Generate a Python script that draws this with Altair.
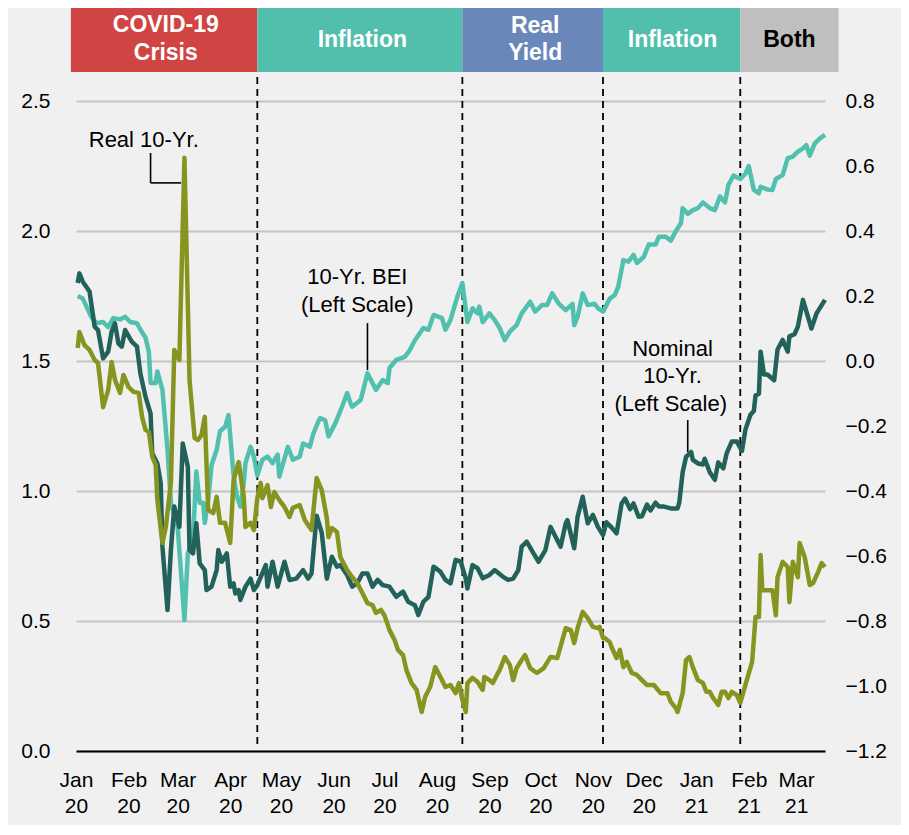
import altair as alt
import pandas as pd

# ---------------- data ----------------
bei_dates = [
    "2020-01-02", "2020-01-05", "2020-01-10", "2020-01-13", "2020-01-17", "2020-01-20", "2020-01-23",
    "2020-01-27", "2020-01-30", "2020-02-02", "2020-02-06", "2020-02-09", "2020-02-11", "2020-02-13",
    "2020-02-14", "2020-02-17", "2020-02-18", "2020-02-21", "2020-02-24", "2020-02-26", "2020-03-01",
    "2020-03-05", "2020-03-07", "2020-03-10", "2020-03-12", "2020-03-14", "2020-03-16", "2020-03-17",
    "2020-03-19", "2020-03-21", "2020-03-24", "2020-03-26", "2020-03-29", "2020-03-31", "2020-04-03",
    "2020-04-05", "2020-04-07", "2020-04-09", "2020-04-10", "2020-04-13", "2020-04-15", "2020-04-17",
    "2020-04-20", "2020-04-23", "2020-04-26", "2020-04-29", "2020-04-30", "2020-05-05", "2020-05-08",
    "2020-05-12", "2020-05-14", "2020-05-18", "2020-05-20", "2020-05-23", "2020-05-24", "2020-05-27",
    "2020-05-29", "2020-06-02", "2020-06-06", "2020-06-09", "2020-06-11", "2020-06-12", "2020-06-17",
    "2020-06-21", "2020-06-26", "2020-06-30", "2020-07-03", "2020-07-04", "2020-07-08", "2020-07-13",
    "2020-07-16", "2020-07-19", "2020-07-24", "2020-07-27", "2020-07-30", "2020-08-04", "2020-08-06",
    "2020-08-09", "2020-08-13", "2020-08-16", "2020-08-19", "2020-08-22", "2020-08-25", "2020-08-26",
    "2020-08-28", "2020-09-01", "2020-09-04", "2020-09-07", "2020-09-10", "2020-09-13", "2020-09-17",
    "2020-09-20", "2020-09-25", "2020-09-28", "2020-10-02", "2020-10-05", "2020-10-08", "2020-10-12",
    "2020-10-16", "2020-10-20", "2020-10-21", "2020-10-23", "2020-10-26", "2020-10-29", "2020-11-02",
    "2020-11-04", "2020-11-07", "2020-11-11", "2020-11-14", "2020-11-16", "2020-11-19", "2020-11-22",
    "2020-11-25", "2020-11-27", "2020-12-01", "2020-12-04", "2020-12-08", "2020-12-10", "2020-12-14",
    "2020-12-17", "2020-12-20", "2020-12-23", "2020-12-24", "2020-12-27", "2020-12-30", "2021-01-02",
    "2021-01-05", "2021-01-09", "2021-01-12", "2021-01-15", "2021-01-18", "2021-01-20", "2021-01-23",
    "2021-01-27", "2021-01-30", "2021-02-01", "2021-02-04", "2021-02-07", "2021-02-08", "2021-02-12",
    "2021-02-15", "2021-02-17", "2021-02-21", "2021-02-24", "2021-02-27", "2021-03-02", "2021-03-05",
    "2021-03-07", "2021-03-09", "2021-03-12", "2021-03-15", "2021-03-18",
]
bei_values = [
    1.75, 1.74, 1.67, 1.645, 1.65, 1.63, 1.665,
    1.66, 1.67, 1.65, 1.645, 1.61, 1.59, 1.535,
    1.415, 1.415, 1.46, 1.39, 1.16, 0.955, 0.86,
    0.504, 0.76, 0.81, 1.075, 0.955, 0.955, 0.877,
    0.965, 1.10, 1.158, 1.23, 1.247, 1.292, 1.06,
    0.978, 0.94, 1.03, 1.107, 1.17, 1.132, 1.06,
    1.12, 1.132, 1.107, 1.14, 1.055, 1.17, 1.12,
    1.132, 1.183, 1.17, 1.22, 1.267, 1.28, 1.273,
    1.21, 1.26, 1.324, 1.377, 1.338, 1.324, 1.35,
    1.453, 1.389, 1.427, 1.415, 1.473, 1.504, 1.516,
    1.542, 1.58, 1.627, 1.62, 1.677, 1.665, 1.62,
    1.658, 1.747, 1.80, 1.65, 1.703, 1.683, 1.709,
    1.65, 1.683, 1.658, 1.627, 1.58, 1.613, 1.638,
    1.683, 1.728, 1.69, 1.715, 1.715, 1.76, 1.72,
    1.696, 1.72, 1.638, 1.67, 1.76, 1.715, 1.72,
    1.703, 1.69, 1.74, 1.754, 1.786, 1.888, 1.882,
    1.908, 1.877, 1.90, 1.948, 1.948, 1.978, 1.978,
    1.963, 2.0, 2.03, 2.088, 2.066, 2.08, 2.088,
    2.11, 2.088, 2.08, 2.133, 2.11, 2.177, 2.213,
    2.20, 2.22, 2.25, 2.158, 2.145, 2.17, 2.16,
    2.158, 2.20, 2.215, 2.28, 2.286, 2.305, 2.318,
    2.33, 2.29, 2.337, 2.356, 2.37,
]

nom_dates = [
    "2020-01-02", "2020-01-03", "2020-01-05", "2020-01-09", "2020-01-12", "2020-01-14", "2020-01-17",
    "2020-01-20", "2020-01-22", "2020-01-24", "2020-01-26", "2020-01-28", "2020-01-30", "2020-02-03",
    "2020-02-06", "2020-02-08", "2020-02-11", "2020-02-14", "2020-02-15", "2020-02-18", "2020-02-20",
    "2020-02-21", "2020-02-24", "2020-02-26", "2020-02-28", "2020-03-02", "2020-03-04", "2020-03-07",
    "2020-03-08", "2020-03-10", "2020-03-12", "2020-03-14", "2020-03-17", "2020-03-18", "2020-03-21",
    "2020-03-24", "2020-03-25", "2020-03-27", "2020-03-30", "2020-04-01", "2020-04-03", "2020-04-04",
    "2020-04-06", "2020-04-07", "2020-04-10", "2020-04-13", "2020-04-15", "2020-04-17", "2020-04-22",
    "2020-04-23", "2020-04-26", "2020-04-29", "2020-05-03", "2020-05-06", "2020-05-10", "2020-05-14",
    "2020-05-17", "2020-05-19", "2020-05-22", "2020-05-25", "2020-05-28", "2020-05-31", "2020-06-03",
    "2020-06-05", "2020-06-09", "2020-06-12", "2020-06-15", "2020-06-18", "2020-06-21", "2020-06-24",
    "2020-06-27", "2020-06-30", "2020-07-04", "2020-07-08", "2020-07-12", "2020-07-15", "2020-07-19",
    "2020-07-21", "2020-07-24", "2020-07-27", "2020-07-30", "2020-08-03", "2020-08-06", "2020-08-09",
    "2020-08-12", "2020-08-15", "2020-08-18", "2020-08-19", "2020-08-22", "2020-08-25", "2020-08-28",
    "2020-09-01", "2020-09-04", "2020-09-09", "2020-09-12", "2020-09-15", "2020-09-18", "2020-09-20",
    "2020-09-23", "2020-09-27", "2020-09-30", "2020-10-04", "2020-10-07", "2020-10-10", "2020-10-13",
    "2020-10-16", "2020-10-17", "2020-10-21", "2020-10-23", "2020-10-26", "2020-10-29", "2020-11-01",
    "2020-11-04", "2020-11-07", "2020-11-09", "2020-11-12", "2020-11-15", "2020-11-18", "2020-11-20",
    "2020-11-23", "2020-11-25", "2020-11-28", "2020-11-30", "2020-12-03", "2020-12-05", "2020-12-08",
    "2020-12-10", "2020-12-13", "2020-12-17", "2020-12-21", "2020-12-22", "2020-12-24", "2020-12-26",
    "2020-12-29", "2020-12-30", "2021-01-02", "2021-01-05", "2021-01-06", "2021-01-09", "2021-01-12",
    "2021-01-14", "2021-01-17", "2021-01-19", "2021-01-22", "2021-01-25", "2021-01-28", "2021-01-30",
    "2021-02-02", "2021-02-04", "2021-02-05", "2021-02-07", "2021-02-08", "2021-02-10", "2021-02-12",
    "2021-02-16", "2021-02-18", "2021-02-21", "2021-02-24", "2021-02-25", "2021-02-28", "2021-03-02",
    "2021-03-05", "2021-03-07", "2021-03-10", "2021-03-13", "2021-03-18",
]
nom_values = [
    1.80, 1.837, 1.805, 1.767, 1.632, 1.619, 1.51,
    1.536, 1.613, 1.645, 1.568, 1.555, 1.619, 1.574,
    1.555, 1.452, 1.363, 1.298, 1.145, 1.106, 1.03,
    0.786, 0.542, 0.773, 0.94, 0.862, 1.183, 1.093,
    0.773, 0.76, 0.876, 0.722, 0.696, 0.619, 0.632,
    0.696, 0.773, 0.728, 0.76, 0.632, 0.645, 0.606,
    0.619, 0.581, 0.632, 0.663, 0.619, 0.638, 0.715,
    0.632, 0.728, 0.632, 0.728, 0.658, 0.663, 0.696,
    0.663, 0.683, 0.905, 0.84, 0.663, 0.747, 0.709,
    0.715, 0.677, 0.632, 0.645, 0.683, 0.683, 0.632,
    0.658, 0.638, 0.632, 0.593, 0.613, 0.574, 0.561,
    0.523, 0.574, 0.593, 0.709, 0.69, 0.658, 0.645,
    0.735, 0.728, 0.663, 0.625, 0.715, 0.703, 0.664,
    0.677, 0.696, 0.67, 0.658, 0.663, 0.696, 0.786,
    0.805, 0.76, 0.728, 0.773, 0.862, 0.824, 0.786,
    0.876, 0.888, 0.78, 0.901, 0.978, 0.876, 0.908,
    0.862, 0.831, 0.88, 0.86, 0.837, 0.952, 0.971,
    0.93, 0.952, 0.901, 0.903, 0.948, 0.925, 0.955,
    0.94, 0.94, 0.933, 0.933, 0.955, 1.072, 1.131,
    1.15, 1.12, 1.106, 1.102, 1.124, 1.072, 1.043,
    1.11, 1.087, 1.146, 1.19, 1.19, 1.154, 1.235,
    1.293, 1.308, 1.367, 1.374, 1.536, 1.448, 1.448,
    1.426, 1.544, 1.581, 1.536, 1.595, 1.603, 1.632,
    1.735, 1.691, 1.625, 1.683, 1.735,
]

real_dates = [
    "2020-01-02", "2020-01-03", "2020-01-06", "2020-01-09", "2020-01-12", "2020-01-14", "2020-01-17",
    "2020-01-20", "2020-01-22", "2020-01-24", "2020-01-27", "2020-01-29", "2020-02-01", "2020-02-04",
    "2020-02-07", "2020-02-09", "2020-02-11", "2020-02-13", "2020-02-15", "2020-02-17", "2020-02-18",
    "2020-02-21", "2020-02-23", "2020-02-26", "2020-02-28", "2020-03-02", "2020-03-05", "2020-03-08",
    "2020-03-11", "2020-03-13", "2020-03-15", "2020-03-17", "2020-03-19", "2020-03-22", "2020-03-24",
    "2020-03-26", "2020-03-29", "2020-04-01", "2020-04-03", "2020-04-06", "2020-04-09", "2020-04-10",
    "2020-04-13", "2020-04-15", "2020-04-17", "2020-04-19", "2020-04-20", "2020-04-23", "2020-04-25",
    "2020-04-27", "2020-04-30", "2020-05-03", "2020-05-06", "2020-05-08", "2020-05-12", "2020-05-15",
    "2020-05-19", "2020-05-22", "2020-05-25", "2020-05-28", "2020-05-29", "2020-05-31", "2020-06-03",
    "2020-06-05", "2020-06-09", "2020-06-12", "2020-06-15", "2020-06-18", "2020-06-21", "2020-06-24",
    "2020-06-26", "2020-06-29", "2020-07-01", "2020-07-04", "2020-07-07", "2020-07-09", "2020-07-12",
    "2020-07-14", "2020-07-17", "2020-07-20", "2020-07-23", "2020-07-25", "2020-07-28", "2020-07-31",
    "2020-08-04", "2020-08-06", "2020-08-09", "2020-08-12", "2020-08-14", "2020-08-16", "2020-08-18",
    "2020-08-19", "2020-08-22", "2020-08-25", "2020-08-28", "2020-08-29", "2020-09-01", "2020-09-03",
    "2020-09-06", "2020-09-07", "2020-09-10", "2020-09-13", "2020-09-15", "2020-09-17", "2020-09-20",
    "2020-09-22", "2020-09-25", "2020-09-29", "2020-10-03", "2020-10-07", "2020-10-11", "2020-10-16",
    "2020-10-19", "2020-10-21", "2020-10-23", "2020-10-26", "2020-10-29", "2020-11-01", "2020-11-04",
    "2020-11-05", "2020-11-07", "2020-11-08", "2020-11-11", "2020-11-12", "2020-11-15", "2020-11-17",
    "2020-11-19", "2020-11-21", "2020-11-24", "2020-11-27", "2020-11-30", "2020-12-03", "2020-12-07",
    "2020-12-11", "2020-12-15", "2020-12-17", "2020-12-20", "2020-12-21", "2020-12-24", "2020-12-26",
    "2020-12-28", "2020-12-30", "2021-01-02", "2021-01-05", "2021-01-07", "2021-01-09", "2021-01-11",
    "2021-01-14", "2021-01-16", "2021-01-18", "2021-01-20", "2021-01-22", "2021-01-25", "2021-01-27",
    "2021-01-30", "2021-02-03", "2021-02-05", "2021-02-07", "2021-02-08", "2021-02-09", "2021-02-15",
    "2021-02-17", "2021-02-18", "2021-02-21", "2021-02-24", "2021-02-25", "2021-02-27", "2021-03-02",
    "2021-03-03", "2021-03-06", "2021-03-09", "2021-03-11", "2021-03-14", "2021-03-16", "2021-03-18",
]
real_values = [
    0.040, 0.089, 0.049, 0.034, 0.003, -0.006, -0.142,
    -0.089, -0.003, -0.058, -0.098, -0.043, -0.080, -0.095,
    -0.098, -0.172, -0.212, -0.218, -0.295, -0.320, -0.428,
    -0.560, -0.511, -0.375, 0.034, 0.003, 0.625, -0.058,
    -0.237, -0.243, -0.228, -0.172, -0.458, -0.468, -0.418,
    -0.498, -0.498, -0.560, -0.366, -0.311, -0.418, -0.511,
    -0.498, -0.520, -0.422, -0.375, -0.422, -0.382, -0.449,
    -0.403, -0.428, -0.449, -0.480, -0.452, -0.443, -0.489,
    -0.520, -0.360, -0.397, -0.483, -0.542, -0.514, -0.526,
    -0.603, -0.643, -0.665, -0.683, -0.714, -0.745, -0.751,
    -0.775, -0.766, -0.782, -0.828, -0.858, -0.889, -0.905,
    -0.951, -0.991, -1.012, -1.080, -1.034, -1.003, -0.942,
    -0.982, -1.003, -0.997, -1.022, -0.991, -1.043, -1.080,
    -0.991, -0.975, -0.988, -1.012, -0.972, -0.982, -0.991,
    -0.960, -0.951, -0.911, -0.935, -0.982, -0.945, -0.920,
    -0.905, -0.945, -0.960, -0.945, -0.911, -0.914, -0.822,
    -0.828, -0.868, -0.822, -0.772, -0.791, -0.818, -0.822,
    -0.818, -0.852, -0.852, -0.865, -0.880, -0.914, -0.889,
    -0.942, -0.926, -0.960, -0.966, -0.982, -0.997, -0.997,
    -1.022, -1.022, -1.049, -1.068, -1.080, -1.022, -0.920,
    -0.911, -0.942, -0.982, -0.991, -1.018, -1.018, -1.037,
    -1.058, -1.018, -1.018, -1.037, -1.018, -1.028, -1.052,
    -0.997, -0.926, -0.788, -0.788, -0.597, -0.705, -0.705,
    -0.782, -0.665, -0.618, -0.634, -0.742, -0.618, -0.665,
    -0.560, -0.603, -0.689, -0.683, -0.649, -0.622, -0.634,
]

# regime bands and dashed boundaries
band_starts = ["2019-12-29", "2020-04-17", "2020-08-16", "2020-11-07", "2021-01-27"]
band_ends = ["2020-04-17", "2020-08-16", "2020-11-07", "2021-01-27", "2021-03-26"]
band_colors = ["#d04443", "#52bfad", "#6a87b9", "#52bfad", "#bfbfbf"]
band_label_dates = ["2020-02-23", "2020-02-23", "2020-06-18", "2020-09-28", "2020-09-28", "2020-12-18", "2021-02-25"]
band_label_lines = ["COVID-19", "Crisis", "Inflation", "Real", "Yield", "Inflation", "Both"]
band_label_y = [2.792, 2.685, 2.735, 2.787, 2.683, 2.735, 2.735]
band_label_colors = ["white", "white", "white", "white", "white", "white", "black"]
divider_dates = ["2020-04-17", "2020-08-16", "2020-11-07", "2021-01-27"]

# series annotations
note_dates = ["2020-02-10", "2020-06-15", "2020-06-15", "2020-12-18", "2020-12-18", "2020-12-17"]
note_lines = ["Real 10-Yr.", "10-Yr. BEI", "(Left Scale)", "Nominal", "10-Yr.", "(Left Scale)"]
note_y = [2.35, 1.823, 1.715, 1.546, 1.442, 1.335]
leader_x = ["2020-02-14", "2020-02-14", "2020-06-21", "2020-12-27"]
leader_x2 = ["2020-02-14", "2020-03-03", "2020-06-21", "2020-12-27"]
leader_y = [2.30, 2.185, 1.646, 1.273]
leader_y2 = [2.185, 2.185, 1.465, 1.15]

left_ticks = [0.0, 0.5, 1.0, 1.5, 2.0, 2.5]
right_ticks = [-1.2, -1.0, -0.8, -0.6, -0.4, -0.2, 0.0, 0.2, 0.4, 0.6, 0.8]

# ---------------- tables ----------------
bei_df = pd.DataFrame({"date": bei_dates, "value": bei_values})
nom_df = pd.DataFrame({"date": nom_dates, "value": nom_values})
real_df = pd.DataFrame({"date": real_dates, "value": real_values})
band_df = pd.DataFrame({"date": band_starts, "end": band_ends, "color": band_colors})
band_txt_df = pd.DataFrame({"date": band_label_dates, "label": band_label_lines,
                            "value": band_label_y, "color": band_label_colors})
div_df = pd.DataFrame({"date": divider_dates})
note_df = pd.DataFrame({"date": note_dates, "label": note_lines, "value": note_y})
lead_df = pd.DataFrame({"date": leader_x, "x2": leader_x2, "value": leader_y, "y2": leader_y2})

FONT = "Liberation Sans"

month_vals = [alt.DateTime(year=2020, month=m, date=1, utc=True) for m in range(1, 13)] + \
             [alt.DateTime(year=2021, month=m, date=1, utc=True) for m in range(1, 4)]

x_scale = alt.Scale(type="utc",
                    domain=[alt.DateTime(year=2020, month=1, date=1, utc=True),
                            alt.DateTime(year=2021, month=3, date=18, utc=True)])
y_left = alt.Scale(domain=[0, 2.5], nice=False, zero=False)
y_right = alt.Scale(domain=[-1.2, 0.8], nice=False, zero=False)

x_axis = alt.Axis(values=month_vals, title=None, grid=False, ticks=False,
                  domainColor="black", domainWidth=2,
                  labelExpr="[utcFormat(datum.value, '%b'), utcFormat(datum.value, '%y')]",
                  labelFontSize=21, labelLineHeight=26, labelPadding=18,
                  labelFlush=False, labelOverlap=False, labelBound=False,
                  labelColor="black", labelFont=FONT)
left_axis = alt.Axis(values=left_ticks, format=".1f", title=None, domain=False, ticks=False,
                     grid=True, gridColor="#c4c4c4", gridWidth=2,
                     labelFontSize=21, labelPadding=26, labelColor="black", labelFont=FONT)
right_axis = alt.Axis(values=right_ticks, format=".1f", title=None, domain=False, ticks=False,
                      grid=False, orient="right",
                      labelFontSize=21, labelPadding=20, labelColor="black", labelFont=FONT)

X = alt.X("date:T", scale=x_scale, axis=x_axis)
YL = alt.Y("value:Q", scale=y_left, axis=left_axis)

band = alt.Chart(band_df).mark_rect().encode(
    x=X, x2="end:T",
    y=alt.datum(2.858, scale=y_left, axis=left_axis), y2=alt.datum(2.612),
    color=alt.Color("color:N", scale=None),
)
band_txt = alt.Chart(band_txt_df).mark_text(font=FONT, fontSize=23, fontWeight="bold",
                                            align="center", baseline="middle").encode(
    x=X, y=YL, text="label:N",
    color=alt.Color("color:N", scale=None),
)
dividers = alt.Chart(div_df).mark_rule(color="black", strokeWidth=1.8, strokeDash=[7, 5]).encode(
    x=X, y=alt.datum(2.592, scale=y_left, axis=left_axis), y2=alt.datum(0.023),
)
bei_line = alt.Chart(bei_df).mark_line(color="#52c0ae", strokeWidth=4.5, strokeJoin="round").encode(
    x=X, y=YL,
)
nom_line = alt.Chart(nom_df).mark_line(color="#22625a", strokeWidth=4.5, strokeJoin="round").encode(
    x=X, y=YL,
)
notes = alt.Chart(note_df).mark_text(font=FONT, fontSize=22, color="black",
                                     align="center", baseline="middle").encode(
    x=X, y=YL, text="label:N",
)
leaders = alt.Chart(lead_df).mark_rule(color="black", strokeWidth=1.6).encode(
    x=X, x2="x2:T", y=YL, y2="y2:Q",
)

left = alt.layer(band, band_txt, dividers, bei_line, nom_line, notes, leaders)

real_line = alt.Chart(real_df).mark_line(color="#879520", strokeWidth=4.5, strokeJoin="round").encode(
    x=X, y=alt.Y("value:Q", scale=y_right, axis=right_axis),
)

chart = alt.layer(left, real_line).resolve_scale(y="independent").properties(
    width=749, height=650,
    autosize=alt.AutoSizeParams(type="none"),
    padding={"left": 68, "top": 93, "right": 76, "bottom": 74},
    background="#f0f0f0",
).configure_view(stroke=None)

chart.save("out.html", embed_options={"renderer": "svg", "actions": False})
